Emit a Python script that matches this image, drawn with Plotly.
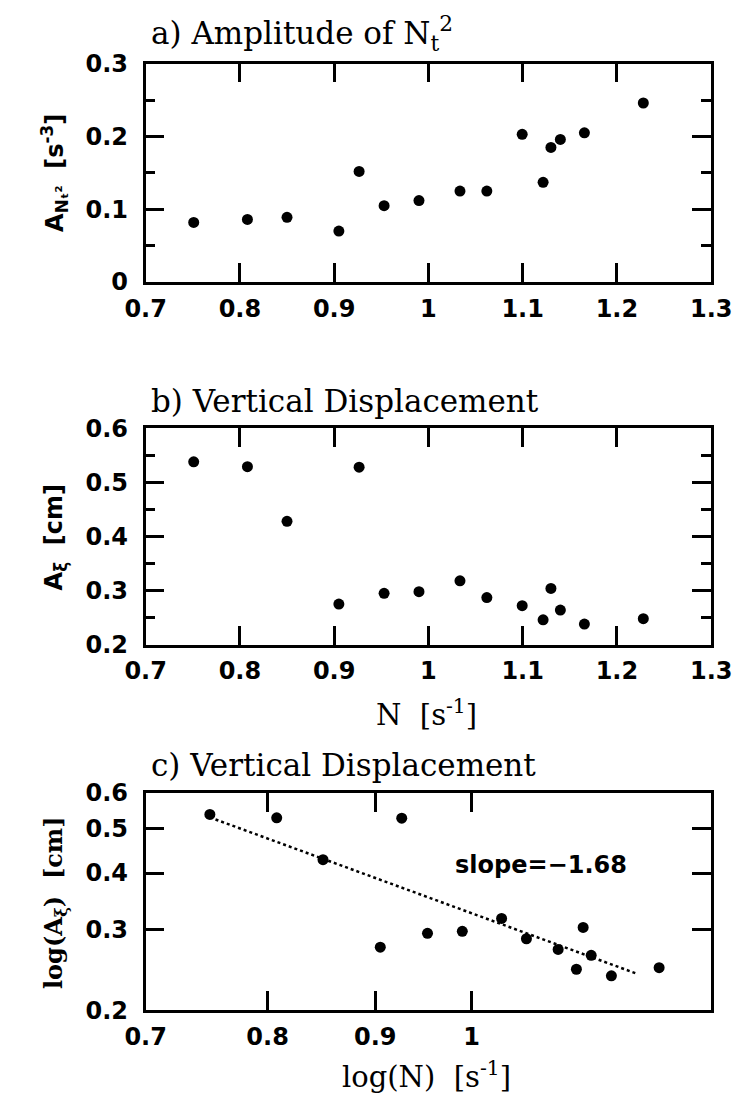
import plotly.graph_objects as go

# ---- data ----
N = [0.751, 0.808, 0.850, 0.905, 0.9265, 0.953, 0.990, 1.0335, 1.062, 1.0995,
     1.1217, 1.130, 1.140, 1.1655, 1.228]
A_N2 = [0.082, 0.086, 0.089, 0.070, 0.152, 0.105, 0.112, 0.125, 0.125, 0.203,
        0.137, 0.185, 0.196, 0.205, 0.246]
A_xi = [0.538, 0.529, 0.428, 0.275, 0.528, 0.295, 0.298, 0.318, 0.287, 0.272,
        0.246, 0.304, 0.264, 0.238, 0.248]
fit_N = [0.751, 1.200]
fit_A = [0.530, 0.240]

xa_ticks = [0.7, 0.8, 0.9, 1.0, 1.1, 1.2, 1.3]
xa_text = ["0.7", "0.8", "0.9", "1", "1.1", "1.2", "1.3"]
ya_ticks = [0, 0.1, 0.2, 0.3]
ya_text = ["0", "0.1", "0.2", "0.3"]
yb_ticks = [0.2, 0.3, 0.4, 0.5, 0.6]
yb_text = ["0.2", "0.3", "0.4", "0.5", "0.6"]
xc_ticks = [0.7, 0.8, 0.9, 1.0]
xc_text = ["0.7", "0.8", "0.9", "1"]
yc_ticks = [0.2, 0.3, 0.4, 0.5, 0.6]
yc_text = ["0.2", "0.3", "0.4", "0.5", "0.6"]

W, H = 752, 1110
XL, XR = 132 / W, 731 / W
def ydom(top, bot):
    return [1 - bot / H, 1 - top / H]

SANS = "DejaVu Sans, Verdana, sans-serif"
SERIF = "DejaVu Serif, Georgia, serif"
TICKFONT = dict(family=SANS, size=24, color="black", weight="bold")

fig = go.Figure()
mk = dict(color="black", size=11)
fig.add_trace(go.Scatter(x=N, y=A_N2, mode="markers", marker=mk, xaxis="x", yaxis="y", showlegend=False))
fig.add_trace(go.Scatter(x=N, y=A_xi, mode="markers", marker=mk, xaxis="x2", yaxis="y2", showlegend=False))
fig.add_trace(go.Scatter(x=N, y=A_xi, mode="markers", marker=mk, xaxis="x3", yaxis="y3", showlegend=False))
fig.add_trace(go.Scatter(x=fit_N, y=fit_A, mode="lines", line=dict(color="black", width=2.5, dash="dot"),
                         xaxis="x3", yaxis="y3", showlegend=False))

common = dict(showline=True, linecolor="black", linewidth=2.5, mirror="ticks", ticks="inside",
              ticklen=19, tickwidth=2.5, tickcolor="black", showgrid=False, zeroline=False,
              tickfont=TICKFONT, ticklabeloverflow="allow")
cx = dict(common, ticklabelstandoff=3)
cy = dict(common, ticklabelstandoff=10)
minor = dict(dtick=0.05, ticks="inside", ticklen=10, tickwidth=2.5, tickcolor="black")

fig.update_layout(
    width=W, height=H, margin=dict(l=0, r=0, t=0, b=0),
    paper_bgcolor="white", plot_bgcolor="white",
    xaxis=dict(domain=[XL, XR], range=[0.7, 1.3], anchor="y", tickvals=xa_ticks, ticktext=xa_text, **cx),
    yaxis=dict(domain=ydom(51, 275), range=[0, 0.3], anchor="x", tickvals=ya_ticks, ticktext=ya_text,
               minor=minor, **cy),
    xaxis2=dict(domain=[XL, XR], range=[0.7, 1.3], anchor="y2", tickvals=xa_ticks, ticktext=xa_text, **cx),
    yaxis2=dict(domain=ydom(425, 647), range=[0.2, 0.6], anchor="x2", tickvals=yb_ticks, ticktext=yb_text,
                minor=minor, **cy),
    xaxis3=dict(domain=[XL, XR], type="log", range=[-0.154902, 0.113943], anchor="y3",
                tickvals=xc_ticks, ticktext=xc_text, **cx),
    yaxis3=dict(domain=ydom(799, 1022), type="log", range=[-0.698970, -0.221849], anchor="x3",
                tickvals=yc_ticks, ticktext=yc_text, **cy),
)

ann = []
def title(text, ypix):
    ann.append(dict(text=text, x=136 / W, y=1 - ypix / H, xref="paper", yref="paper",
                    xanchor="left", yanchor="middle", showarrow=False,
                    font=dict(family=SERIF, size=31, color="black")))
title("a) Amplitude of N<sub>t</sub><sup>2</sup>", 20)
title("b) Vertical Displacement", 397)
title("c) Vertical Displacement", 770)

def ytitle(text, ypix, fam=SANS):
    ann.append(dict(text=text, x=36 / W, y=1 - ypix / H, xref="paper", yref="paper",
                    xanchor="center", yanchor="middle", textangle=-90, showarrow=False,
                    font=dict(family=fam, size=24, color="black", weight="bold")))
ytitle("A<sub>Nₜ²</sub>  [s<sup>-3</sup>]", 163)
ytitle("A<sub>ξ</sub>  [cm]", 537)
ytitle("log(A<sub>ξ</sub>)  [cm]", 911, fam=SERIF)

def xtitle(text, ypix):
    ann.append(dict(text=text, x=430 / W, y=1 - ypix / H, xref="paper", yref="paper",
                    xanchor="center", yanchor="middle", showarrow=False,
                    font=dict(family=SERIF, size=29, color="black")))
xtitle("N  [s<sup>-1</sup>]", 717)
xtitle("log(N)  [s<sup>-1</sup>]", 1088)

ann.append(dict(text="slope=−1.68", x=551 / W, y=1 - 873 / H, xref="paper", yref="paper",
                xanchor="center", yanchor="middle", showarrow=False,
                font=dict(family=SANS, size=24, color="black", weight="bold")))
fig.update_layout(annotations=ann)

fig.write_html("out.html")
